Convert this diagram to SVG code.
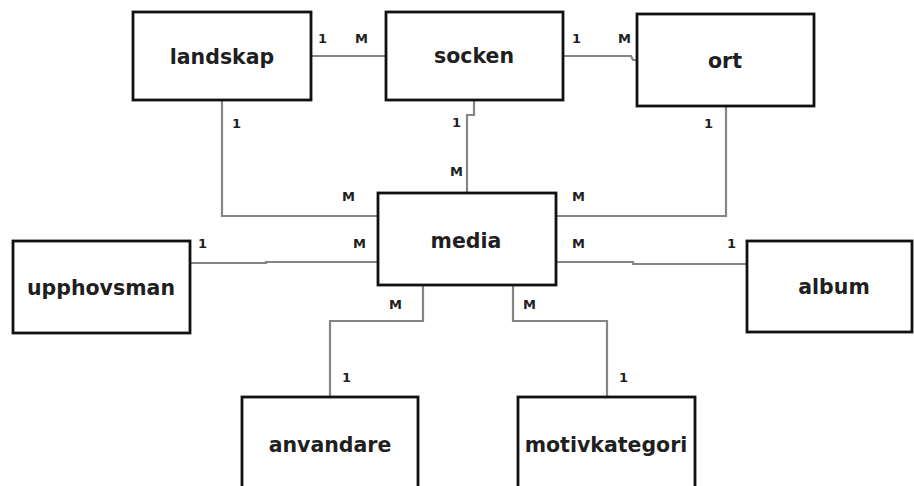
<svg xmlns="http://www.w3.org/2000/svg" width="914" height="486" viewBox="0 0 914 486">
  <style>
    .box { fill: #ffffff; stroke: #111111; stroke-width: 2.8; }
    .name { font-family: "DejaVu Sans", Verdana, sans-serif; font-weight: bold; font-size: 20.5px; fill: #1f1f1f; text-anchor: middle; }
    .link { fill: none; stroke: #858585; stroke-width: 2.2; }
    .card { font-family: "DejaVu Sans", Verdana, sans-serif; font-weight: bold; font-size: 13px; fill: #1f1f1f; }
  </style>
  <rect width="914" height="486" fill="#ffffff"/>

  <!-- relationship lines -->
  <g id="connectors">
    <path class="link" d="M311,56 H386"/>
    <path class="link" d="M563,56 H631 L633,60 H637"/>
    <path class="link" d="M222,100 V216 H378"/>
    <path class="link" d="M474,100 V115 H467 V193"/>
    <path class="link" d="M726,106 V216 H556"/>
    <path class="link" d="M190,263 H266 V262 H378"/>
    <path class="link" d="M556,262 H633 V264 H747"/>
    <path class="link" d="M423,285 V321 H330 V397"/>
    <path class="link" d="M513,285 V321 H607 V397"/>
  </g>

  <!-- cardinalities -->
  <g id="cardinalities">
    <text class="card" x="318" y="43">1</text>
    <text class="card" x="355" y="43">M</text>
    <text class="card" x="572" y="43">1</text>
    <text class="card" x="618" y="43">M</text>
    <text class="card" x="232" y="128">1</text>
    <text class="card" x="452" y="127">1</text>
    <text class="card" x="704" y="128">1</text>
    <text class="card" x="342" y="201">M</text>
    <text class="card" x="450" y="176">M</text>
    <text class="card" x="572" y="201">M</text>
    <text class="card" x="198" y="248">1</text>
    <text class="card" x="353" y="248">M</text>
    <text class="card" x="572" y="248">M</text>
    <text class="card" x="727" y="248">1</text>
    <text class="card" x="389" y="309">M</text>
    <text class="card" x="523" y="309">M</text>
    <text class="card" x="342" y="382">1</text>
    <text class="card" x="619" y="382">1</text>
  </g>

  <g id="landskap">
    <rect class="box" x="133" y="12" width="178" height="88"/>
    <text class="name" x="222" y="64">landskap</text>
  </g>
  <g id="socken">
    <rect class="box" x="386" y="12" width="177" height="88"/>
    <text class="name" x="474" y="63">socken</text>
  </g>
  <g id="ort">
    <rect class="box" x="637" y="14" width="177" height="92"/>
    <text class="name" x="725" y="68">ort</text>
  </g>
  <g id="media">
    <rect class="box" x="378" y="193" width="178" height="92"/>
    <text class="name" x="466" y="248">media</text>
  </g>
  <g id="upphovsman">
    <rect class="box" x="13" y="241" width="177" height="92"/>
    <text class="name" x="101" y="295">upphovsman</text>
  </g>
  <g id="album">
    <rect class="box" x="747" y="241" width="165" height="91"/>
    <text class="name" x="834" y="294">album</text>
  </g>
  <g id="anvandare">
    <rect class="box" x="242" y="397" width="176" height="100"/>
    <text class="name" x="330" y="452">anvandare</text>
  </g>
  <g id="motivkategori">
    <rect class="box" x="518" y="397" width="177" height="100"/>
    <text class="name" x="606" y="452">motivkategori</text>
  </g>
</svg>
